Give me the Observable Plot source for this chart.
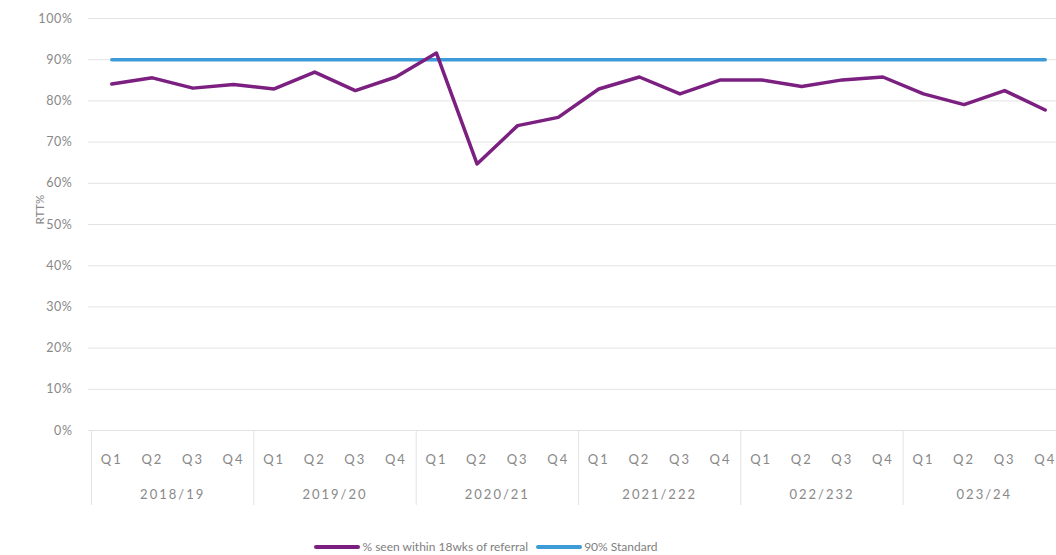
<!DOCTYPE html>
<html>
<head>
<meta charset="utf-8">
<script src="https://cdn.jsdelivr.net/npm/d3@7"></script>
<script src="https://cdn.jsdelivr.net/npm/@observablehq/plot@0.6"></script>
<style>
  html, body { margin: 0; padding: 0; background: #fff; overflow: hidden; width: 1056px; height: 555px; }
  #chart { width: 1070px; }
  #chart svg { display: block; max-width: none !important; }
  .legend { position: absolute; top: 539px; left: 0; width: 972px; display: flex; justify-content: center; align-items: center;
            font-family: Lato, "Open Sans", sans-serif; font-size: 12px; color: #808080; }
  .legend .item { display: flex; align-items: center; margin: 0 4px; }
  .legend .sw { width: 46px; height: 4px; border-radius: 2px; margin-right: 2px; }
</style>
</head>
<body>
<div id="chart"></div>
<div class="legend">
  <div class="item"><span class="sw" style="background:#7B1F80"></span><span id="lg1"></span></div>
  <div class="item"><span class="sw" style="background:#3D9BD8"></span><span id="lg2"></span></div>
</div>
<script>
const years = ["2018/19", "2019/20", "2020/21", "2021/222", "022/232", "023/24"];
const quarters = ["Q1", "Q2", "Q3", "Q4"];
const seenWithin18wks = [
  84.1, 85.6, 83.1, 84.0,
  82.9, 87.0, 82.5, 85.8,
  91.6, 64.7, 74.0, 76.0,
  82.9, 85.8, 81.7, 85.1,
  85.1, 83.5, 85.1, 85.8,
  81.7, 79.1, 82.5, 77.8
];
const standard = 90;
const yTicks = [0, 10, 20, 30, 40, 50, 60, 70, 80, 90, 100];
const seriesNames = ["% seen within 18wks of referral", "90% Standard"];

document.getElementById("lg1").textContent = seriesNames[0];
document.getElementById("lg2").textContent = seriesNames[1];

const rows = seenWithin18wks.map((v, i) => ({
  i, pos: i + 0.5, year: years[Math.floor(i / 4)], q: quarters[i % 4], value: v, std: standard
}));
const yearRows = years.map((y, k) => ({ year: y, mid: k * 4 + 2 }));
const bounds = years.map((y, k) => k * 4).concat([years.length * 4]);

const purple = "#7B1F80";
const blue = "#3D9BD8";
const txt = "#888888";

const chart = Plot.plot({
  width: 1070,
  height: 515,
  marginLeft: 91,
  marginRight: 5,
  marginTop: 18,
  marginBottom: 85,
  style: { fontFamily: "Lato, 'Open Sans', sans-serif", fontSize: "13px", color: txt, background: "#fff", maxWidth: "none" },
  x: { type: "linear", domain: [0, 24], axis: null },
  y: { domain: [0, 100], axis: null },
  marks: [
    Plot.ruleY(yTicks, { stroke: "#e3e3e3", strokeWidth: 1, insetLeft: -3 }),
    Plot.axisY(yTicks, { tickFormat: d => d + "%", tickSize: 0, tickPadding: 19, fill: txt, fontSize: 12.5, label: null }),
    Plot.text(["RTT%"], { frameAnchor: "left", dx: -51, rotate: -90, fill: txt, fontSize: 11.5 }),
    Plot.ruleX(bounds, { y1: 0, y2: 0, insetBottom: -75, stroke: "#e3e3e3", strokeWidth: 1 }),
    Plot.text(rows, { x: "pos", text: "q", frameAnchor: "bottom", dy: 33, fill: txt, fontSize: 13 }),
    Plot.text(yearRows, { x: "mid", text: "year", frameAnchor: "bottom", dy: 68, fill: txt, fontSize: 13 }),
    Plot.line(rows, { x: "pos", y: "std", stroke: blue, strokeWidth: 3.5 }),
    Plot.line(rows, { x: "pos", y: "value", stroke: purple, strokeWidth: 3.5, strokeLinejoin: "round" })
  ]
});
const spaced = new Set(quarters.concat(years));
d3.select(chart).selectAll("text").each(function () {
  const t = this.textContent;
  if (spaced.has(t)) this.setAttribute("letter-spacing", "2px");
  else if (/%$/.test(t) && t !== "RTT%") this.setAttribute("letter-spacing", "0.6px");
});
document.getElementById("chart").appendChild(chart);
</script>
</body>
</html>
